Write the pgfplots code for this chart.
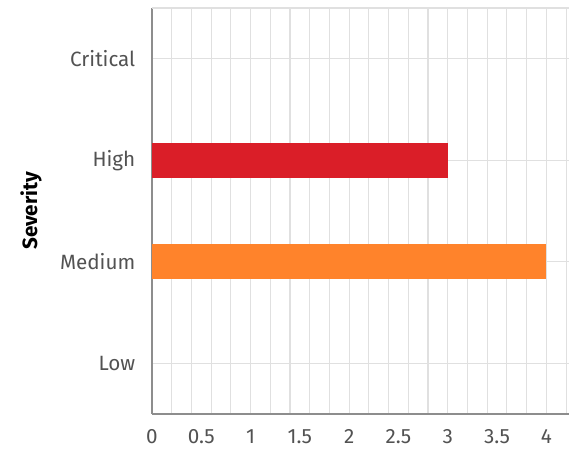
\documentclass[border=0pt]{standalone}
\usepackage{pgfplots}
\pgfplotsset{compat=1.18}
\usepackage{fontspec}
\setmainfont{Fira Sans}
\definecolor{barred}{HTML}{DA1E28}
\definecolor{barorange}{HTML}{FF832B}
\definecolor{gridc}{HTML}{E0E0E0}
\definecolor{tickc}{HTML}{525252}
\definecolor{axc}{HTML}{8D8D8D}
\begin{document}
\begin{tikzpicture}
\useasboundingbox (-114pt,-28.5pt) rectangle (312.75pt,310.5pt);
\begin{axis}[
  at={(0,0)}, anchor=south west, scale only axis,
  width=312.75pt, height=304.5pt,
  xmin=0, xmax=4.23, ymin=-0.5, ymax=3.5,
  xtick={0,0.2,0.4,0.6,0.8,1,1.2,1.4,1.6,1.8,2,2.2,2.4,2.6,2.8,3,3.2,3.4,3.6,3.8,4,4.2},
  xticklabels={},
  xmajorgrids=true,
  extra x ticks={0,0.5,1,1.5,2,2.5,3,3.5,4},
  extra x tick labels={0,0.5,1,1.5,2,2.5,3,3.5,4},
  extra x tick style={grid=none, major tick length=0pt},
  ytick={0,1,2,3}, yticklabels={Low,Medium,High,Critical},
  ymajorgrids=true,
  extra y ticks={3.5}, extra y tick labels={},
  extra y tick style={grid=major, major tick length=0pt},
  grid style={gridc, line width=0.8pt},
  major tick length=0pt, minor tick length=0pt,
  axis x line*=bottom, axis y line*=left,
  axis line style={axc, line width=1pt},
  tick label style={font=\fontsize{15.5}{18}\selectfont, text=tickc},
  xticklabel style={yshift=-8pt},
  yticklabel style={xshift=-9pt},
  /pgf/number format/assume math mode=true,
  ylabel={Severity},
  ylabel style={at={(axis description cs:-0.290,0.5)}, anchor=center, font=\bfseries\fontsize{15.5}{18}\selectfont, text=black},
  xbar, bar width=26.25pt, bar shift=0pt,
]
\addplot[draw=none, fill=barred] coordinates {(3,2)};
\addplot[draw=none, fill=barorange] coordinates {(4,1)};
\end{axis}
\end{tikzpicture}
\end{document}
